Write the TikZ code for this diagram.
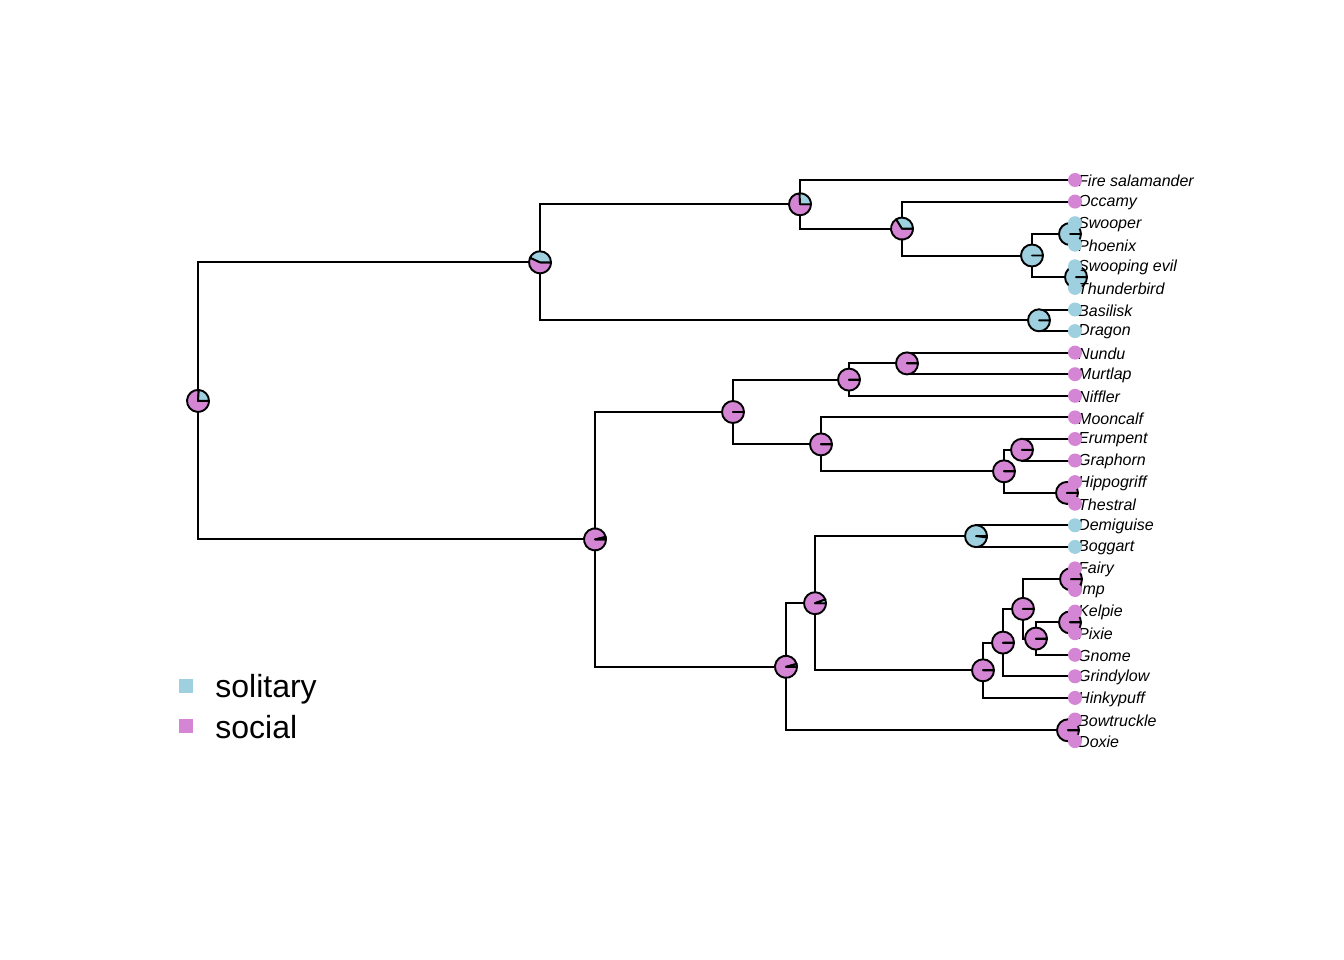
\documentclass[tikz,border=0pt]{standalone}
\usepackage{fontspec}
\setmainfont{Liberation Sans}
\usetikzlibrary{positioning}
\definecolor{sol-blue}{RGB}{158,208,224}
\definecolor{soc-pink}{RGB}{212,134,212}

% pie at a node: #1 = node, #2 = end angle of the solitary share
\newcommand{\statepie}[2]{%
  \draw[pie, fill=soc-pink] (#1) -- ++(#2:11) arc (#2:360:11) -- cycle;
  \draw[pie, fill=sol-blue] (#1) -- ++(0:11) arc (0:#2:11) -- cycle;
}

\begin{document}
\begin{tikzpicture}
    [x=1pt, y=1pt,
    branch/.style = {line width=2pt},
    pie/.style = {draw=black, line width=1.9pt, line join=round},
    tipdot/.style = {circle, inner sep=0pt, minimum size=14pt},
    tiplab/.style = {anchor=west, inner sep=0pt,
            font=\itshape\fontsize{16}{18}\selectfont},
    legkey/.style = {rectangle, inner sep=0pt, minimum size=14pt},
    leglab/.style = {inner sep=0pt, font=\fontsize{32}{38}\selectfont},
    ]

\useasboundingbox (0, 0) rectangle (1344, -960);

% tips
\coordinate (fire) at (1075, -180.0);
\coordinate (occamy) at (1075, -201.6);
\coordinate (swooper) at (1075, -223.2);
\coordinate (phoenix) at (1075, -244.7);
\coordinate (sevil) at (1075, -266.3);
\coordinate (thunder) at (1075, -287.9);
\coordinate (basilisk) at (1075, -309.5);
\coordinate (dragon) at (1075, -331.1);
\coordinate (nundu) at (1075, -352.6);
\coordinate (murtlap) at (1075, -374.2);
\coordinate (niffler) at (1075, -395.8);
\coordinate (mooncalf) at (1075, -417.4);
\coordinate (erumpent) at (1075, -439.0);
\coordinate (graphorn) at (1075, -460.5);
\coordinate (hippogriff) at (1075, -482.1);
\coordinate (thestral) at (1075, -503.7);
\coordinate (demiguise) at (1075, -525.3);
\coordinate (boggart) at (1075, -546.9);
\coordinate (fairy) at (1075, -568.4);
\coordinate (imp) at (1075, -590.0);
\coordinate (kelpie) at (1075, -611.6);
\coordinate (pixie) at (1075, -633.2);
\coordinate (gnome) at (1075, -654.8);
\coordinate (grindylow) at (1075, -676.3);
\coordinate (hinkypuff) at (1075, -697.9);
\coordinate (bowtruckle) at (1075, -719.5);
\coordinate (doxie) at (1075, -741.1);

% inner nodes
\coordinate (root) at (198, -400.9);
\coordinate (a) at (540, -262.3);
\coordinate (b) at (800, -204.3);
\coordinate (c) at (902, -228.6);
\coordinate (d) at (1032, -255.5);
\coordinate (e) at (1070, -234.0);
\coordinate (f) at (1076, -277.1);
\coordinate (g) at (1039, -320.3);
\coordinate (h) at (595, -539.4);
\coordinate (i) at (733, -412.0);
\coordinate (k) at (849, -379.6);
\coordinate (m) at (907, -363.4);
\coordinate (l) at (821, -444.4);
\coordinate (n) at (1004, -471.3);
\coordinate (o) at (1022, -449.8);
\coordinate (p) at (1067, -492.9);
\coordinate (j) at (786, -666.8);
\coordinate (q) at (815, -603.2);
\coordinate (s) at (976, -536.1);
\coordinate (t) at (983, -670.3);
\coordinate (u) at (1003, -642.6);
\coordinate (v) at (1023, -608.9);
\coordinate (w) at (1071, -579.2);
\coordinate (x) at (1036, -638.6);
\coordinate (y) at (1070, -622.4);
\coordinate (r) at (1068, -730.3);

% branches
\draw[branch] (root) |- (a) (root) |- (h);
\draw[branch] (a) |- (b) (a) |- (g);
\draw[branch] (b) |- (fire) (b) |- (c);
\draw[branch] (c) |- (occamy) (c) |- (d);
\draw[branch] (d) |- (e) (d) |- (f);
\draw[branch] (e) |- (swooper) (e) |- (phoenix);
\draw[branch] (f) |- (sevil) (f) |- (thunder);
\draw[branch] (g) |- (basilisk) (g) |- (dragon);
\draw[branch] (h) |- (i) (h) |- (j);
\draw[branch] (i) |- (k) (i) |- (l);
\draw[branch] (k) |- (m) (k) |- (niffler);
\draw[branch] (m) |- (nundu) (m) |- (murtlap);
\draw[branch] (l) |- (mooncalf) (l) |- (n);
\draw[branch] (n) |- (o) (n) |- (p);
\draw[branch] (o) |- (erumpent) (o) |- (graphorn);
\draw[branch] (p) |- (hippogriff) (p) |- (thestral);
\draw[branch] (j) |- (q) (j) |- (r);
\draw[branch] (q) |- (s) (q) |- (t);
\draw[branch] (s) |- (demiguise) (s) |- (boggart);
\draw[branch] (t) |- (u) (t) |- (hinkypuff);
\draw[branch] (u) |- (v) (u) |- (grindylow);
\draw[branch] (v) |- (w) (v) |- (x);
\draw[branch] (w) |- (fairy) (w) |- (imp);
\draw[branch] (x) |- (y) (x) |- (gnome);
\draw[branch] (y) |- (kelpie) (y) |- (pixie);
\draw[branch] (r) |- (bowtruckle) (r) |- (doxie);

% ancestral states
\statepie{root}{86}
\statepie{a}{155}
\statepie{b}{92}
\statepie{c}{122}
\statepie{d}{360}
\statepie{e}{360}
\statepie{f}{360}
\statepie{g}{360}
\statepie{h}{13}
\statepie{i}{0}
\statepie{k}{0}
\statepie{m}{0}
\statepie{l}{0}
\statepie{n}{0}
\statepie{o}{0}
\statepie{p}{0}
\statepie{j}{15}
\statepie{q}{20}
\statepie{s}{353}
\statepie{t}{0}
\statepie{u}{0}
\statepie{v}{0}
\statepie{w}{0}
\statepie{x}{0}
\statepie{y}{0}
\statepie{r}{0}

% tip labels
\foreach \tip/\name in {fire/Fire salamander, occamy/Occamy, swooper/Swooper,
        phoenix/Phoenix, sevil/Swooping evil, thunder/Thunderbird,
        basilisk/Basilisk, dragon/Dragon, nundu/Nundu, murtlap/Murtlap,
        niffler/Niffler, mooncalf/Mooncalf, erumpent/Erumpent,
        graphorn/Graphorn, hippogriff/Hippogriff, thestral/Thestral,
        demiguise/Demiguise, boggart/Boggart, fairy/Fairy, imp/Imp,
        kelpie/Kelpie, pixie/Pixie, gnome/Gnome, grindylow/Grindylow,
        hinkypuff/Hinkypuff, bowtruckle/Bowtruckle, doxie/Doxie}
    \node[tiplab] (\tip-lab) at ([xshift=3pt, yshift=-1pt]\tip) {\name};

% tip states
\foreach \tip in {swooper, phoenix, sevil, thunder, basilisk, dragon,
        demiguise, boggart}
    \node[tipdot, fill=sol-blue] (\tip-dot) at (\tip) {};
\foreach \tip in {fire, occamy, nundu, murtlap, niffler, mooncalf, erumpent,
        graphorn, hippogriff, thestral, fairy, imp, kelpie, pixie, gnome,
        grindylow, hinkypuff, bowtruckle, doxie}
    \node[tipdot, fill=soc-pink] (\tip-dot) at (\tip) {};

% legend
\node[legkey, fill=sol-blue] (key1) at (186, -686) {};
\node[legkey, fill=soc-pink] (key2) at (186, -726) {};
\node[leglab, right=22pt of key1, yshift=-3pt] (lab1) {solitary};
\node[leglab, right=22pt of key2, yshift=-1pt] (lab2) {social};

\end{tikzpicture}
\end{document}
